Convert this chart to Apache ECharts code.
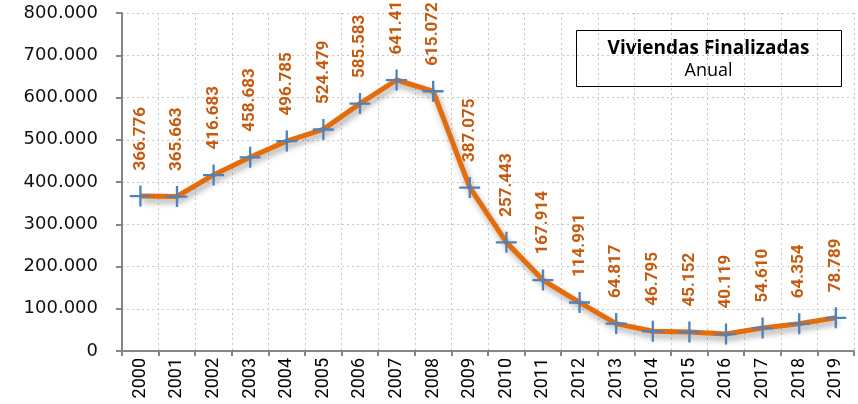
<!DOCTYPE html>
<html>
<head>
<meta charset="utf-8">
<script src="https://cdn.jsdelivr.net/npm/echarts@6/dist/echarts.min.js"></script>
<style>
  html, body { margin: 0; padding: 0; background: #fff; }
  #chart { width: 858px; height: 404px; }
</style>
</head>
<body>
<div id="chart"></div>
<script>
const years = ['2000', '2001', '2002', '2003', '2004', '2005', '2006', '2007', '2008', '2009',
  '2010', '2011', '2012', '2013', '2014', '2015', '2016', '2017', '2018', '2019'];
const viviendas = [366776, 365663, 416683, 458683, 496785, 524479, 585583, 641419, 615072, 387075,
  257443, 167914, 114991, 64817, 46795, 45152, 40119, 54610, 64354, 78789];
const yTicks = [0, 100000, 200000, 300000, 400000, 500000, 600000, 700000, 800000];

const narrow = "Roboto, 'Liberation Sans', sans-serif";

// 1234567 -> 1.234.567
function miles(v) {
  return String(v).replace(/\B(?=(\d{3})+(?!\d))/g, '.');
}

const chart = echarts.init(document.getElementById('chart'));

chart.setOption({
  animation: false,
  backgroundColor: '#fff',
  grid: { left: 122, right: 4, top: 13, bottom: 53, outerBoundsMode: 'none' },
  xAxis: {
    type: 'category',
    data: years,
    boundaryGap: true,
    axisLine: { lineStyle: { color: '#868686', width: 2 } },
    axisTick: { show: true, length: 5, lineStyle: { color: '#868686', width: 2 } },
    axisLabel: {
      interval: 0,
      rotate: 90,
      margin: 7,
      color: '#000',
      fontFamily: narrow,
      fontSize: 18
    },
    splitLine: { show: true, lineStyle: { color: '#c8c8c8', type: [2, 3] } }
  },
  yAxis: {
    type: 'value',
    min: yTicks[0],
    max: yTicks[yTicks.length - 1],
    interval: 100000,
    axisLine: { show: true, lineStyle: { color: '#868686', width: 2 } },
    axisTick: { show: true, length: 6, lineStyle: { color: '#868686', width: 2 } },
    axisLabel: {
      margin: 24,
      color: '#111',
      fontFamily: 'DejaVu Sans',
      fontSize: 18,
      formatter: (v) => miles(v)
    },
    splitLine: { show: true, lineStyle: { color: '#c8c8c8', type: [2, 3] } }
  },
  series: [{
    type: 'line',
    data: viviendas,
    symbol: 'path://M0,9H20V11.2H0Z M9,0H11.2V20H9Z',
    symbolSize: 21,
    itemStyle: { color: '#4f81bd' },
    lineStyle: {
      color: '#e46c0a',
      width: 5,
      shadowColor: 'rgba(0,0,0,0.35)',
      shadowBlur: 6,
      shadowOffsetX: 2,
      shadowOffsetY: 4
    },
    label: {
      show: true,
      position: 'top',
      distance: 15,
      rotate: 90,
      align: 'left',
      verticalAlign: 'middle',
      color: '#c55a11',
      fontFamily: narrow,
      fontWeight: 'bold',
      fontSize: 17,
      formatter: (p) => miles(p.value)
    },
    z: 3
  }],
  graphic: [{
    type: 'group',
    left: 576,
    top: 30,
    children: [
      {
        type: 'rect',
        shape: { x: 0, y: 0, width: 265, height: 56 },
        style: { fill: '#fff', stroke: '#000', lineWidth: 1 }
      },
      {
        type: 'text',
        x: 132,
        y: 18,
        style: {
          text: 'Viviendas Finalizadas',
          fontFamily: "'Open Sans', sans-serif",
          fontWeight: 'bold',
          fontSize: 19,
          fill: '#000',
          align: 'center',
          verticalAlign: 'middle'
        }
      },
      {
        type: 'text',
        x: 132,
        y: 40,
        style: {
          text: 'Anual',
          fontFamily: "'Open Sans', sans-serif",
          fontSize: 18,
          fill: '#000',
          align: 'center',
          verticalAlign: 'middle'
        }
      }
    ]
  }]
});
</script>
</body>
</html>
